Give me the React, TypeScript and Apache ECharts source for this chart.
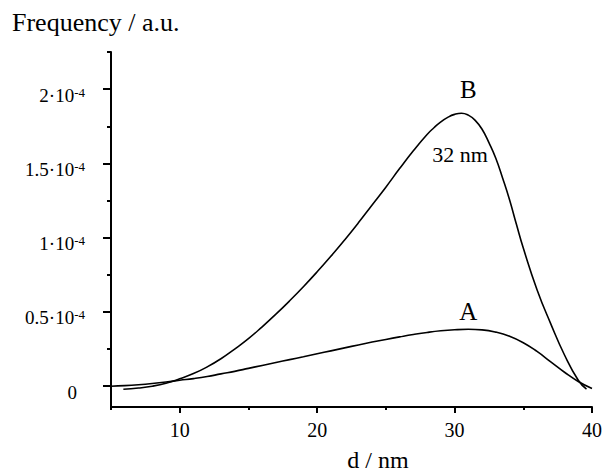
import React, { useEffect, useRef } from "react";
import * as echarts from "echarts";

// diameter d / nm and frequency (units of 1e-4 a.u.)
const dA = [5, 6, 7, 8, 9, 10, 11, 12, 13, 14, 15, 16, 17, 18, 19, 20, 21, 22, 23, 24, 25, 26, 27, 28, 29, 30, 31, 32, 33, 34, 35, 36, 37, 38, 39, 40];
const freqA = [0, 0.004, 0.01, 0.018, 0.028, 0.04, 0.051, 0.065, 0.083, 0.1, 0.12, 0.14, 0.16, 0.179, 0.198, 0.218, 0.238, 0.258, 0.278, 0.297, 0.315, 0.332, 0.348, 0.362, 0.373, 0.38, 0.383, 0.379, 0.364, 0.336, 0.293, 0.234, 0.164, 0.094, 0.032, -0.015];

const dB = [5.9, 7, 8, 9, 10, 11, 12, 13, 14, 15, 16, 17, 18, 19, 20, 21, 22, 23, 24, 25, 26, 27, 28, 28.5, 29, 29.5, 30, 30.5, 31, 31.5, 32, 32.5, 33, 33.5, 34, 34.5, 35, 36, 37, 38, 39, 39.6];
const freqB = [-0.02, -0.012, 0, 0.02, 0.05, 0.085, 0.13, 0.185, 0.25, 0.32, 0.4, 0.485, 0.575, 0.67, 0.77, 0.875, 0.985, 1.1, 1.22, 1.34, 1.465, 1.585, 1.695, 1.74, 1.78, 1.81, 1.83, 1.838, 1.825, 1.79, 1.73, 1.64, 1.535, 1.4, 1.255, 1.09, 0.93, 0.65, 0.42, 0.21, 0.04, -0.02];

const yMajorTicks = [0, 0.5, 1, 1.5, 2];
const yMinorTicks = [0.25, 0.75, 1.25, 1.75, 2.25];
const xMajorTicks = [10, 20, 30, 40];
const xMinorTicks = [5, 15, 25, 35];

const labelsB = [{ text: "B", coord: [31, 2.0] }];
const labelsB2 = [{ text: "32 nm", coord: [30.4, 1.56] }];
const labelsA = [{ text: "A", coord: [31, 0.5] }];

const FONT = "Liberation Serif, Times New Roman, Times, DejaVu Serif, serif";

export default function App() {
  const ref = useRef<HTMLDivElement>(null);
  useEffect(() => {
    if (!ref.current) return;
    const chart = echarts.init(ref.current, null, { renderer: "svg" });
    const lbl = (size: number) => ({ show: true, position: "inside", color: "#000", fontFamily: FONT, fontSize: size, formatter: (p: any) => p.name });
    chart.setOption({
      animation: false,
      backgroundColor: "#fff",
      textStyle: { fontFamily: FONT },
      grid: { left: 111, right: 14, top: 52, bottom: 66 },
      xAxis: [
        {
          type: "value",
          min: 5,
          max: 40,
          axisLine: { show: true, onZero: false, lineStyle: { color: "#000", width: 2 } },
          axisTick: { show: true, customValues: xMajorTicks, length: 6, lineStyle: { color: "#000", width: 2 } },
          axisLabel: { customValues: xMajorTicks, color: "#000", fontFamily: FONT, fontSize: 20, margin: 13 },
          splitLine: { show: false },
        },
        {
          type: "value",
          min: 5,
          max: 40,
          position: "bottom",
          axisLine: { show: false, onZero: false },
          axisTick: { show: true, customValues: xMinorTicks, length: 3, lineStyle: { color: "#000", width: 2 } },
          axisLabel: { show: false },
          splitLine: { show: false },
        },
      ],
      yAxis: [
        {
          type: "value",
          min: -0.14,
          max: 2.25,
          axisLine: { show: true, onZero: false, lineStyle: { color: "#000", width: 2 } },
          axisTick: { show: true, customValues: yMajorTicks, length: 8, lineStyle: { color: "#000", width: 2 } },
          axisLabel: {
            customValues: yMajorTicks,
            margin: 26,
            padding: [12, 0, 0, 0],
            formatter: (v: number) => (v === 0 ? "{z|0}" : `{m|${v}·10}{s|-4}`),
            rich: {
              z: { color: "#000", fontFamily: FONT, fontSize: 19, padding: [0, 8, 0, 0] },
              m: { color: "#000", fontFamily: FONT, fontSize: 19 },
              s: { color: "#000", fontFamily: FONT, fontSize: 13, verticalAlign: "top" },
            },
          },
          splitLine: { show: false },
        },
        {
          type: "value",
          min: -0.14,
          max: 2.25,
          position: "left",
          axisLine: { show: false, onZero: false },
          axisTick: { show: true, customValues: yMinorTicks, length: 4, lineStyle: { color: "#000", width: 2 } },
          axisLabel: { show: false },
          splitLine: { show: false },
        },
      ],
      graphic: [
        { type: "text", x: 12, y: 22, style: { text: "Frequency / a.u.", fill: "#000", fontFamily: FONT, fontSize: 26, verticalAlign: "middle" } },
        { type: "text", x: 378, y: 460, style: { text: "d / nm", fill: "#000", fontFamily: FONT, fontSize: 24, align: "center", verticalAlign: "middle" } },
      ],
      series: [
        {
          type: "line",
          name: "A",
          smooth: 0.5,
          showSymbol: false,
          lineStyle: { color: "#000", width: 1.6 },
          data: dA.map((d, i) => [d, freqA[i]]),
          markPoint: {
            symbol: "circle",
            symbolSize: 0,
            silent: true,
            label: lbl(25),
            data: labelsA.map((it) => ({ name: it.text, coord: it.coord })),
          },
        },
        {
          type: "line",
          name: "B",
          smooth: 0.5,
          showSymbol: false,
          lineStyle: { color: "#000", width: 1.6 },
          data: dB.map((d, i) => [d, freqB[i]]),
          markPoint: {
            symbol: "circle",
            symbolSize: 0,
            silent: true,
            label: lbl(25),
            data: [
              ...labelsB.map((it) => ({ name: it.text, coord: it.coord })),
              ...labelsB2.map((it) => ({ name: it.text, coord: it.coord, label: lbl(22) })),
            ],
          },
        },
      ],
    });
    return () => chart.dispose();
  }, []);
  return <div ref={ref} style={{ position: "fixed", left: 0, top: 0, width: 606, height: 473 }} />;
}
